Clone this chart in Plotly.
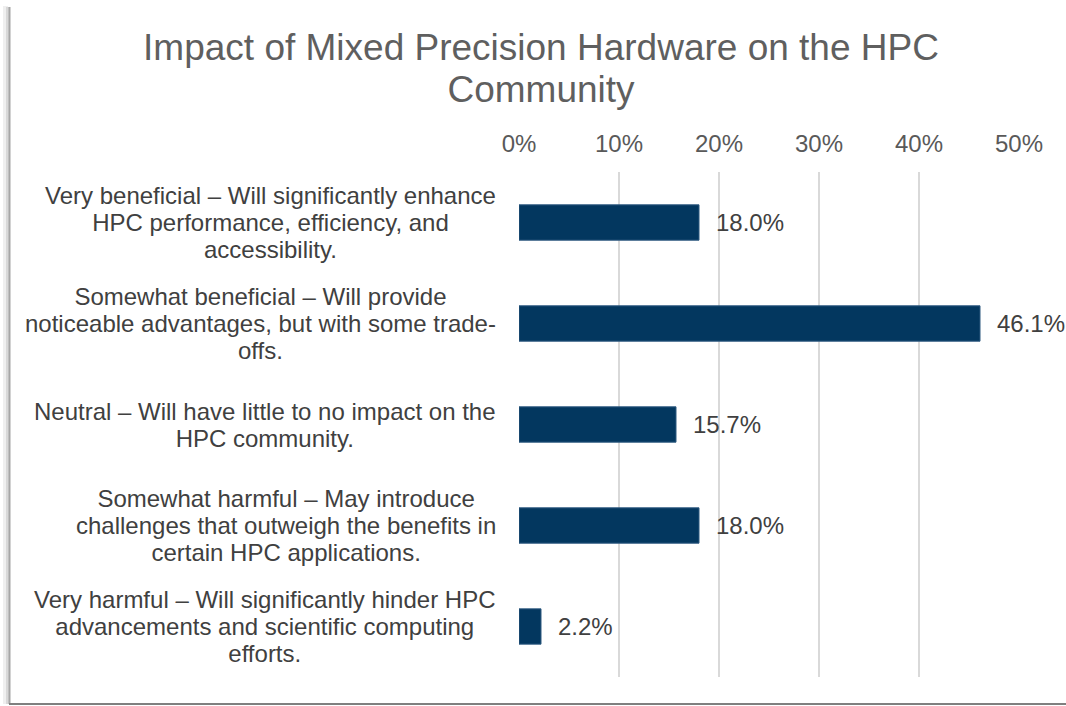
import plotly.graph_objects as go

title_lines = ["Impact of Mixed Precision Hardware on the HPC", "Community"]
categories = [
    "Very beneficial – Will significantly enhance<br>HPC performance, efficiency, and<br>accessibility.",
    "Somewhat beneficial – Will provide<br>noticeable advantages, but with some trade-<br>offs.",
    "Neutral – Will have little to no impact on the<br>HPC community.",
    "Somewhat harmful – May introduce<br>challenges that outweigh the benefits in<br>certain HPC applications.",
    "Very harmful – Will significantly hinder HPC<br>advancements and scientific computing<br>efforts.",
]
values = [0.180, 0.461, 0.157, 0.180, 0.022]
tick_vals = [0, 0.1, 0.2, 0.3, 0.4, 0.5]
tick_text = ["0%", "10%", "20%", "30%", "40%", "50%"]

W, H = 1066, 706
L, R, T, B = 519, 47, 172, 29
PW, PH = W - L - R, H - T - B

def px(x):
    return (x - L) / PW

def py(y):
    return (H - B - y) / PH

FONT = "Liberation Sans, Arial, sans-serif"
BAR = "#03375F"
TXT = 24
LINE_GAP = 27
TITLE_SIZE = 37
TITLE_GAP = 42

fig = go.Figure()
fig.add_trace(go.Bar(
    x=values, y=list(range(len(categories))), orientation="h",
    width=0.35, marker=dict(color=BAR, line=dict(color="#2E5A80", width=1)),
    hoverinfo="skip",
))

annotations = []
for i, (c, v) in enumerate(zip(categories, values)):
    lines = c.split("<br>")
    txt = "<br>".join(f'<span style="font-size:{TXT}px">{ln}</span>' for ln in lines)
    annotations.append(dict(
        x=0, y=i, xref="paper", yref="y", text=txt, showarrow=False,
        xanchor="right", yanchor="middle", align="center", xshift=-21,
        font=dict(family=FONT, size=LINE_GAP / 1.3, color="#404040"),
    ))
    annotations.append(dict(
        x=v, y=i, xref="x", yref="y", text=f"{v*100:.1f}%", showarrow=False,
        xanchor="left", yanchor="middle", xshift=15,
        font=dict(family=FONT, size=TXT, color="#404040"),
    ))

shapes = [
    dict(type="rect", xref="paper", yref="paper", x0=px(3), x1=px(8), y0=py(704), y1=py(6),
         fillcolor="#EFEFEF", line=dict(width=0), layer="below"),
    dict(type="rect", xref="paper", yref="paper", x0=px(6), x1=px(9), y0=py(704), y1=py(7),
         fillcolor="#D8D8D8", line=dict(width=0), layer="below"),
    dict(type="line", xref="paper", yref="paper", x0=px(9.5), x1=px(9.5), y0=py(704), y1=py(7),
         line=dict(color="#A6A6A6", width=2)),
    dict(type="line", xref="paper", yref="paper", x0=px(9), x1=px(1066), y0=py(704), y1=py(704),
         line=dict(color="#7F7F7F", width=2)),
]

title_text = "<br>".join(f'<span style="font-size:{TITLE_SIZE}px">{ln}</span>' for ln in title_lines)

fig.update_layout(
    width=W, height=H,
    margin=dict(l=L, r=R, t=T, b=B, pad=0),
    paper_bgcolor="white", plot_bgcolor="white",
    showlegend=False,
    title=dict(text=title_text, x=541 / W, xanchor="center", y=1 - 60 / H, yanchor="middle",
               font=dict(family=FONT, size=TITLE_GAP / 1.3, color="#5F5F5F")),
    xaxis=dict(
        range=[0, 0.5], side="top", tickvals=tick_vals, ticktext=tick_text,
        showgrid=True, gridcolor="#D9D9D9", gridwidth=1.5, zeroline=False,
        showline=False, ticks="", automargin=False, ticklabelstandoff=14,
        tickfont=dict(family=FONT, size=TXT, color="#595959"),
        fixedrange=True,
    ),
    yaxis=dict(
        range=[len(categories) - 0.5, -0.5], showticklabels=False, showgrid=False,
        zeroline=False, showline=False, ticks="", automargin=False, fixedrange=True,
    ),
    annotations=annotations,
    shapes=shapes,
)

fig.write_html("out.html", post_script="document.body.style.margin='0px';",
               config={"displayModeBar": False})
